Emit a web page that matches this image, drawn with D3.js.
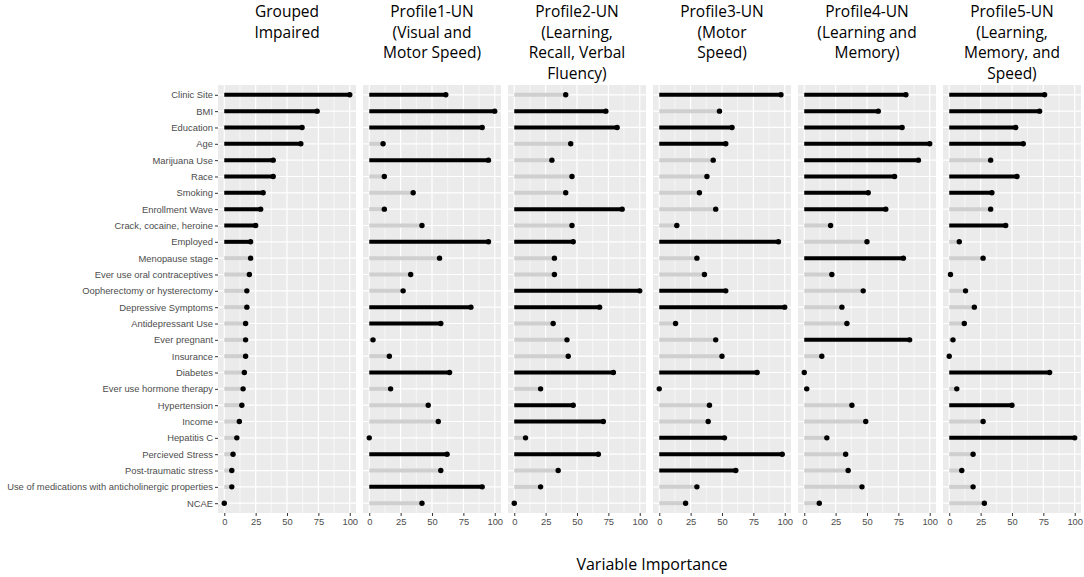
<!DOCTYPE html>
<html>
<head>
<meta charset="utf-8">
<script src="https://cdn.jsdelivr.net/npm/d3@7"></script>
<style>
  body { margin: 0; background: #fff; }
  svg { display: block; }
</style>
</head>
<body>
<svg id="chart"></svg>
<script>
// variables, top to bottom
var variables = ["Clinic Site", "BMI", "Education", "Age", "Marijuana Use", "Race", "Smoking",
  "Enrollment Wave", "Crack, cocaine, heroine", "Employed", "Menopause stage",
  "Ever use oral contraceptives", "Oopherectomy or hysterectomy", "Depressive Symptoms",
  "Antidepressant Use", "Ever pregnant", "Insurance", "Diabetes", "Ever use hormone therapy",
  "Hypertension", "Income", "Hepatitis C", "Percieved Stress", "Post-traumatic stress",
  "Use of medications with anticholinergic properties", "NCAE"];

var panelTitles = [
  ["Grouped", "Impaired"],
  ["Profile1-UN", "(Visual and", "Motor Speed)"],
  ["Profile2-UN", "(Learning,", "Recall, Verbal", "Fluency)"],
  ["Profile3-UN", "(Motor", "Speed)"],
  ["Profile4-UN", "(Learning and", "Memory)"],
  ["Profile5-UN", "(Learning,", "Memory, and", "Speed)"]
];

// importance values per panel (same order as variables)
var grouped  = [100, 74, 62, 61, 39, 39, 31, 29, 25, 21, 21, 20, 18, 18, 17, 17, 17, 16, 15, 14, 12, 10, 7, 6, 6, 0];
var profile1 = [61, 100, 90, 11, 95, 12, 35, 12, 42, 95, 56, 33, 27, 81, 57, 3, 16, 64, 17, 47, 55, 0, 62, 57, 90, 42];
var profile2 = [41, 73, 82, 45, 30, 46, 41, 86, 46, 47, 32, 32, 100, 68, 31, 42, 43, 79, 21, 47, 71, 9, 67, 35, 21, 0];
var profile3 = [97, 48, 58, 53, 43, 38, 32, 45, 14, 95, 30, 36, 53, 100, 13, 45, 50, 78, 0, 40, 39, 52, 98, 61, 30, 21];
var profile4 = [81, 59, 78, 100, 91, 72, 51, 65, 21, 50, 79, 22, 47, 30, 34, 84, 14, 0, 2, 38, 49, 18, 33, 35, 46, 12];
var profile5 = [76, 72, 53, 59, 33, 54, 34, 33, 45, 8, 27, 1, 13, 20, 12, 3, 0, 80, 6, 50, 27, 100, 19, 10, 19, 28];

// 1 = selected (black bar), 0 = not selected (grey bar)
var selGrouped  = [1,1,1,1,1,1,1,1,1,1,0,0,0,0,0,0,0,0,0,0,0,0,0,0,0,0];
var selProfile1 = [1,1,1,0,1,0,0,0,0,1,0,0,0,1,1,0,0,1,0,0,0,0,1,0,1,0];
var selProfile2 = [0,1,1,0,0,0,0,1,0,1,0,0,1,1,0,0,0,1,0,1,1,0,1,0,0,0];
var selProfile3 = [1,0,1,1,0,0,0,0,0,1,0,0,1,1,0,0,0,1,0,0,0,1,1,1,0,0];
var selProfile4 = [1,1,1,1,1,1,1,1,0,0,1,0,0,0,0,1,0,0,0,0,0,0,0,0,0,0];
var selProfile5 = [1,1,1,1,0,1,1,0,1,0,0,0,0,0,0,0,0,1,0,1,0,1,0,0,0,0];

var xTicks = [0, 25, 50, 75, 100];
var xMinor = [12.5, 37.5, 62.5, 87.5];

var panelValues = [grouped, profile1, profile2, profile3, profile4, profile5];
var panelSel = [selGrouped, selProfile1, selProfile2, selProfile3, selProfile4, selProfile5];

var width = 1084, height = 577;
var svg = d3.select("#chart").attr("width", width).attr("height", height);

var panelTop = 85, panelBottom = 513;

var px = d3.scaleBand()
  .domain(d3.range(panelValues.length))
  .range([218, 1081])
  .paddingInner(0.048);

var x = d3.scaleLinear().domain([-5, 105]).range([0, px.bandwidth()]);

var y = d3.scalePoint()
  .domain(variables)
  .range([panelTop, panelBottom])
  .padding(0.6);

var font = "'Liberation Sans', Arial, sans-serif";

panelValues.forEach(function(vals, p) {
  var g = svg.append("g").attr("transform", "translate(" + px(p) + ",0)");

  g.append("rect")
    .attr("x", 0).attr("y", panelTop)
    .attr("width", px.bandwidth()).attr("height", panelBottom - panelTop)
    .attr("fill", "#ebebeb");

  // grid
  g.selectAll(".minor").data(xMinor).enter().append("line")
    .attr("x1", d => x(d)).attr("x2", d => x(d))
    .attr("y1", panelTop).attr("y2", panelBottom)
    .attr("stroke", "#fff").attr("stroke-width", 0.6);
  g.selectAll(".major").data(xTicks).enter().append("line")
    .attr("x1", d => x(d)).attr("x2", d => x(d))
    .attr("y1", panelTop).attr("y2", panelBottom)
    .attr("stroke", "#fff").attr("stroke-width", 1.2);
  g.selectAll(".hgrid").data(variables).enter().append("line")
    .attr("x1", 0).attr("x2", px.bandwidth())
    .attr("y1", d => y(d)).attr("y2", d => y(d))
    .attr("stroke", "#fff").attr("stroke-width", 1.2);

  var rows = variables.map(function(v, i) { return {name: v, value: vals[i], sel: panelSel[p][i]}; });

  g.selectAll(".seg").data(rows).enter().append("line")
    .attr("x1", x(0)).attr("x2", d => x(d.value))
    .attr("y1", d => y(d.name)).attr("y2", d => y(d.name))
    .attr("stroke", d => d.sel ? "#000" : "#cfcfcf")
    .attr("stroke-width", 4);

  g.selectAll(".pt").data(rows).enter().append("circle")
    .attr("cx", d => x(d.value)).attr("cy", d => y(d.name))
    .attr("r", 2.7).attr("fill", "#000");

  // x axis
  var ax = g.append("g")
    .attr("transform", "translate(0," + panelBottom + ")")
    .call(d3.axisBottom(x).tickValues(xTicks).tickSize(3).tickPadding(2));
  ax.select(".domain").remove();
  ax.selectAll("line").attr("stroke", "#333");
  ax.selectAll("text").attr("fill", "#4d4d4d").style("font-family", font).style("font-size", "9.4px");

  // title
  var t = svg.append("text")
    .attr("x", px(p) + px.bandwidth() / 2)
    .attr("y", 17)
    .attr("text-anchor", "middle")
    .style("font-family", "'Open Sans', sans-serif")
    .style("font-size", "15.5px")
    .attr("fill", "#000");
  panelTitles[p].forEach(function(line, k) {
    t.append("tspan").attr("x", px(p) + px.bandwidth() / 2).attr("y", 17 + k * 20.5).text(line);
  });
});

// y axis on first panel
var ay = svg.append("g")
  .attr("transform", "translate(" + px(0) + ",0)")
  .call(d3.axisLeft(y).tickSize(3).tickPadding(2));
ay.select(".domain").remove();
ay.selectAll("line").attr("stroke", "#333");
ay.selectAll("text").attr("fill", "#4d4d4d").style("font-family", font).style("font-size", "9.4px");

svg.append("text")
  .attr("x", 652).attr("y", 570)
  .attr("text-anchor", "middle")
  .style("font-family", "'Open Sans', sans-serif")
  .style("font-size", "16px")
  .attr("fill", "#000")
  .text("Variable Importance");
</script>
</body>
</html>
